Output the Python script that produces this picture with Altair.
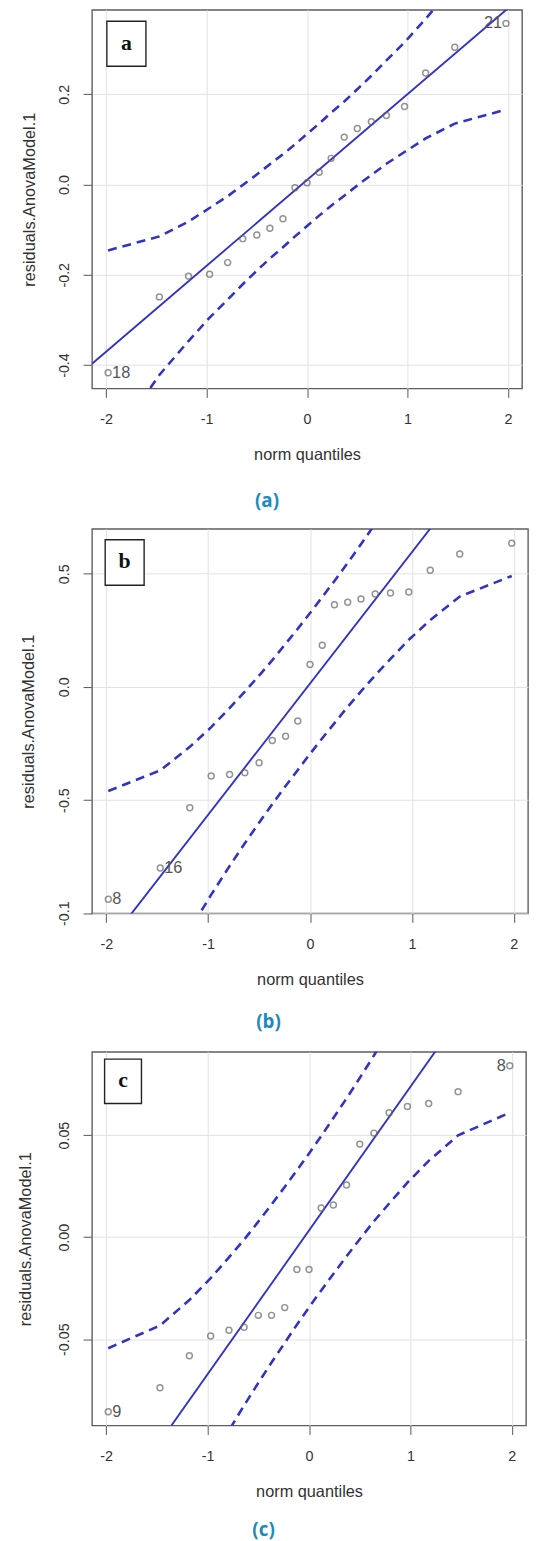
import altair as alt
import pandas as pd

# ---------------- data ----------------
norm_q = [-1.98, -1.47, -1.18, -0.97, -0.79, -0.64, -0.50, -0.37, -0.24, -0.12, 0.0,
          0.12, 0.24, 0.37, 0.50, 0.64, 0.79, 0.97, 1.18, 1.47, 1.98]
fit_x = [-2.14, 2.14]
x_ticks = [-2, -1, 0, 1, 2]

res_a = [-0.417, -0.249, -0.203, -0.199, -0.173, -0.120, -0.112, -0.097, -0.076, -0.007, 0.004,
         0.027, 0.058, 0.105, 0.124, 0.139, 0.153, 0.173, 0.247, 0.304, 0.357]
upper_a = [-0.146, -0.115, -0.082, -0.052, -0.026, -0.001, 0.022, 0.045, 0.067, 0.089, 0.112,
           0.135, 0.159, 0.184, 0.211, 0.241, 0.275, 0.315, 0.367, 0.442, 0.606]
lower_a = [-0.586, -0.422, -0.347, -0.295, -0.255, -0.221, -0.191, -0.164, -0.139, -0.115, -0.092,
           -0.069, -0.047, -0.025, -0.002, 0.021, 0.046, 0.072, 0.102, 0.135, 0.166]
fit_a = [-0.397, 0.417]
yticks_a = [-0.4, -0.2, 0.0, 0.2]

res_b = [-0.938, -0.800, -0.534, -0.394, -0.387, -0.379, -0.335, -0.237, -0.218, -0.151, 0.099,
         0.184, 0.363, 0.374, 0.388, 0.410, 0.415, 0.419, 0.515, 0.587, 0.635]
upper_b = [-0.460, -0.369, -0.265, -0.178, -0.094, -0.021, 0.050, 0.118, 0.190, 0.257, 0.326,
           0.397, 0.468, 0.548, 0.630, 0.721, 0.822, 0.948, 1.103, 1.337, 1.836]
lower_b = [-1.806, -1.307, -1.073, -0.918, -0.792, -0.691, -0.600, -0.518, -0.438, -0.367, -0.296,
           -0.227, -0.160, -0.088, -0.020, 0.051, 0.124, 0.208, 0.295, 0.399, 0.490]
fit_b = [-1.226, 1.256]
yticks_b = [-1.0, -0.5, 0.0, 0.5]

res_c = [-0.0855, -0.0738, -0.0581, -0.0484, -0.0456, -0.0441, -0.0383, -0.0383, -0.0345, -0.0158, -0.0158,
         0.0143, 0.0158, 0.0256, 0.0456, 0.0510, 0.0610, 0.0640, 0.0655, 0.0713, 0.0840]
upper_c = [-0.0544, -0.0433, -0.0308, -0.0201, -0.0099, -0.0012, 0.0076, 0.0160, 0.0246, 0.0327, 0.0410,
           0.0495, 0.0584, 0.0680, 0.0780, 0.0890, 0.1013, 0.1165, 0.1354, 0.1637, 0.2244]
lower_c = [-0.2178, -0.1571, -0.1288, -0.1099, -0.0947, -0.0824, -0.0714, -0.0614, -0.0518, -0.0429, -0.0344,
           -0.0261, -0.0180, -0.0094, -0.0010, 0.0078, 0.0165, 0.0267, 0.0374, 0.0499, 0.0610]
fit_c = [-0.1474, 0.1540]
yticks_c = [-0.05, 0.0, 0.05]

# outlier labels: (index of point, text, side)
labels_a = [(0, "18", "right"), (20, "21", "left")]
labels_b = [(0, "8", "right"), (1, "16", "right")]
labels_c = [(0, "9", "right"), (20, "8", "left")]

BLUE = "#3232c4"
GREY_PT = "#666666"
CAPTION = "#1b8bbd"
FONT = "Liberation Sans"


def panel(res, upper, lower, fit_y, ydom, yticks, yfmt, yexpr, letter, caption, labels,
          W, H, left, slot, box, cap_y, title_pad):
    xs = alt.Scale(domain=[-2.14, 2.14], nice=False, zero=False)
    ys = alt.Scale(domain=ydom, nice=False, zero=False)
    xaxis = alt.Axis(values=x_ticks, title="norm quantiles", grid=True, domain=False,
                     tickSize=9, labelPadding=15, titlePadding=21, labelFlush=False,
                     labelExpr="replace(datum.label, '\u2212', '-')")
    yaxis = alt.Axis(values=yticks, title="residuals.AnovaModel.1", grid=True, domain=False,
                     format=yfmt, labelAngle=270, labelAlign="center", labelBaseline="bottom",
                     tickSize=9, labelPadding=12, titlePadding=title_pad, labelFlush=False,
                     labelOverlap=False, labelExpr=yexpr)
    X = alt.X("q:Q", scale=xs, axis=xaxis)
    Y = alt.Y("r:Q", scale=ys, axis=yaxis)

    pts = pd.DataFrame({"q": norm_q, "r": res})
    env = pd.DataFrame({"q": norm_q + norm_q, "r": upper + lower,
                        "band": ["upper"] * len(norm_q) + ["lower"] * len(norm_q)})
    fit = pd.DataFrame({"q": fit_x, "r": fit_y})
    lab = pd.DataFrame({"q": [norm_q[i] for i, _, _ in labels],
                        "r": [res[i] for i, _, _ in labels],
                        "t": [t for _, t, _ in labels],
                        "side": [s for _, _, s in labels]})
    one = pd.DataFrame({"t": [letter]})

    guard = alt.Chart(one).mark_rule(strokeOpacity=0, strokeWidth=0).encode(
        x=alt.value(-(left - 8)), y=alt.value(0), y2=alt.value(slot))

    dashed = alt.Chart(env).mark_line(color=BLUE, strokeWidth=2.6, strokeDash=[9, 6], clip=True).encode(
        x=X, y=Y, detail="band:N")
    solid = alt.Chart(fit).mark_line(color=BLUE, strokeWidth=1.9, clip=True).encode(x=X, y=Y)
    points = alt.Chart(pts).mark_point(shape="circle", filled=False, color=GREY_PT, size=36,
                                       strokeWidth=1.5).encode(x=X, y=Y)
    lab_r = alt.Chart(lab).transform_filter(alt.datum.side == "right").mark_text(
        align="left", baseline="middle", dx=4, font=FONT, fontSize=16.5, color="#555555").encode(
        x=X, y=Y, text="t:N")
    lab_l = alt.Chart(lab).transform_filter(alt.datum.side == "left").mark_text(
        align="right", baseline="middle", dx=-4, font=FONT, fontSize=16.5, color="#555555").encode(
        x=X, y=Y, text="t:N")
    bx0, by0, bx1, by1 = box
    rect = alt.Chart(one).mark_rect(fill="white", stroke="#222222", strokeWidth=1.4).encode(
        x=alt.value(bx0), x2=alt.value(bx1), y=alt.value(by0), y2=alt.value(by1))
    let = alt.Chart(one).mark_text(font="Liberation Serif", fontWeight="bold", fontSize=22,
                                   color="#111111", baseline="middle", align="center").encode(
        x=alt.value((bx0 + bx1) / 2), y=alt.value((by0 + by1) / 2 - 1), text="t:N")
    cap = alt.Chart(pd.DataFrame({"t": [caption]})).mark_text(
        font="Open Sans", fontWeight="bold", fontSize=19, color=CAPTION,
        align="center", baseline="middle").encode(
        x=alt.value(268.5 - left), y=alt.value(cap_y), text="t:N")

    layers = [dashed, solid, points, lab_r, lab_l, rect, let, cap]
    if slot:
        layers = [guard] + layers
    return alt.layer(*layers).properties(width=W, height=H)


default_expr = "replace(datum.label, '\u2212', '-')"
pa = panel(res_a, upper_a, lower_a, fit_a, [-0.452, 0.387], yticks_a, ".1f", default_expr,
           "a", "(a)", labels_a, 435, 383, 91.5, 522.5, (15, 11.5, 54.5, 57), 497, 19)
pb = panel(res_b, upper_b, lower_b, fit_b, [-1.001, 0.698], yticks_b, ".1f",
           "datum.value == -1 ? '-0.1' : " + default_expr,
           "b", "(b)", labels_b, 441, 389, 90, 527, (13.3, 11, 52.7, 57), 499, 20)
pc = panel(res_c, upper_c, lower_c, fit_c, [-0.0923, 0.0908], yticks_c, ".2f", default_expr,
           "c", "(c)", labels_c, 439, 378, 95, 0, (12.7, 7.3, 50, 52.3), 484, 23)

chart = alt.vconcat(pa, pb, pc, spacing=0).properties(
    padding={"left": 0, "top": -8, "right": 0, "bottom": 0}
).configure_view(
    stroke="#5e5e5e", strokeWidth=1.4
).configure_axis(
    labelFont=FONT, titleFont=FONT, labelFontSize=14.5, titleFontSize=16.5,
    labelColor="#333333", titleColor="#333333", titleFontWeight="normal",
    tickColor="#555555", tickWidth=1, gridColor="#e2e2e2", gridWidth=1
).configure_concat(spacing=0)

chart.save("out.html", embed_options={"renderer": "svg", "actions": False})
